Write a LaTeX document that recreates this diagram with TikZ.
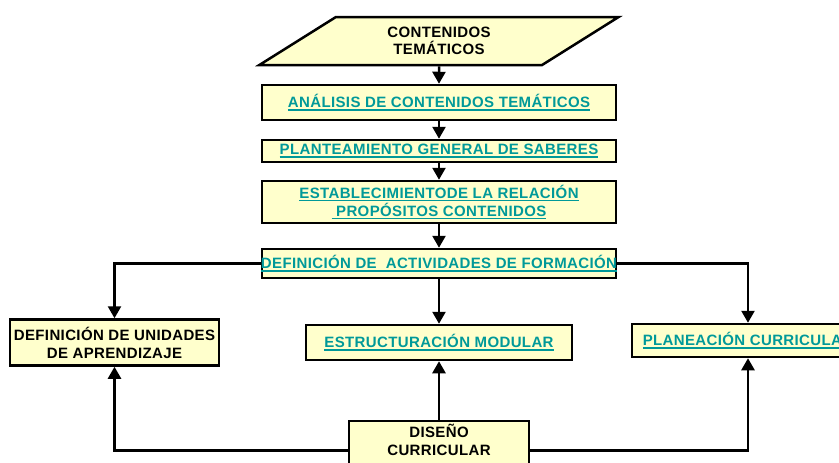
\documentclass[tikz,border=0pt]{standalone}
\usepackage{fontspec}
\setmainfont[LetterSpace=2.5]{Liberation Sans}
\usepackage{xcolor}
\usepackage{tikz}
\usetikzlibrary{arrows.meta,shapes.geometric}
\definecolor{boxfill}{HTML}{FFFFCC}
\definecolor{linkteal}{HTML}{009999}
\newsavebox{\lnkbox}
\newcommand{\lnk}[1]{\textcolor{linkteal}{\sbox{\lnkbox}{#1}\rlap{\rule[-2.8pt]{\wd\lnkbox}{1.5pt}}\usebox{\lnkbox}}}
\tikzset{stepbox/.style={draw, fill=boxfill, rectangle, line width=2.5pt, text centered, align=center, font=\bfseries\fontsize{15}{18}\selectfont, inner sep=3pt}}
\tikzset{databox/.style={draw, fill=boxfill, trapezium, trapezium left angle=40, trapezium right angle=140, trapezium stretches=true, line width=2.5pt, align=center, font=\bfseries\fontsize{15}{17}\selectfont}}
\tikzset{line/.style={draw, line width=2.5pt, -{Triangle[width=13pt,length=12pt]}}}

\begin{document}
\begin{tikzpicture}[x=1pt, y=-1pt]
		\clip (0,0) rectangle (839,463);
		\node [databox, minimum width=360pt, minimum height=48pt] (temas) at (439,41) {CONTENIDOS\\TEMÁTICOS};
		\node [stepbox, below of=temas, node distance=61.5pt, minimum width=354pt, minimum height=35pt] (analisis) {\lnk{ANÁLISIS DE CONTENIDOS TEMÁTICOS}};
		\node [stepbox, below of=analisis, node distance=48.5pt, minimum width=354pt, minimum height=22pt, inner ysep=0pt] (saberes) {\lnk{PLANTEAMIENTO GENERAL DE SABERES}};
		\node [stepbox, below of=saberes, node distance=51pt, minimum width=354pt, minimum height=42pt, inner ysep=0pt] (relacion) {\lnk{ESTABLECIMIENTODE LA RELACIÓN}\\\lnk{~PROPÓSITOS CONTENIDOS}};
		\node [stepbox, below of=relacion, node distance=61.5pt, minimum height=29pt, inner sep=0pt] (actividades) {\makebox[354pt]{\lnk{DEFINICIÓN DE~ ACTIVIDADES DE FORMACIÓN}}};
		
		\node [stepbox, below of=actividades, node distance=79pt, minimum width=266pt, minimum height=35pt] (modular) {\lnk{ESTRUCTURACIÓN MODULAR}};
		\node [stepbox, left of=modular, node distance=324.5pt, minimum height=46pt, inner xsep=0pt] (unidades) {\makebox[209pt]{DEFINICIÓN DE UNIDADES}\\DE APRENDIZAJE};
		\node [stepbox, right of=modular, node distance=309pt, yshift=2pt, minimum width=232pt, minimum height=33pt] (planeacion) {\lnk{PLANEACIÓN CURRICULAR}};
		
		\node [stepbox, below of=modular, node distance=108pt, minimum width=180pt, minimum height=46pt] (diseno) {DISEÑO\\CURRICULAR\\[4pt]};
		
		% main chain
		\path [line] (temas) -- (analisis);
		\path [line] (analisis) -- (saberes);
		\path [line] (saberes) -- (relacion);
		\path [line] (relacion) -- (actividades);
		
		% branches
		\path [line] (actividades.west) -| (unidades.north);
		\path [line] (actividades) -- (modular);
		\path [line] (actividades.east) -| (planeacion.north);
		
		% feedback from diseno
		\path [line] (diseno) -- (modular);
		\path [line] (diseno.west) -| (unidades.south);
		\path [line] (diseno.east) -| (planeacion.south);
		
		\end{tikzpicture}
\end{document}
